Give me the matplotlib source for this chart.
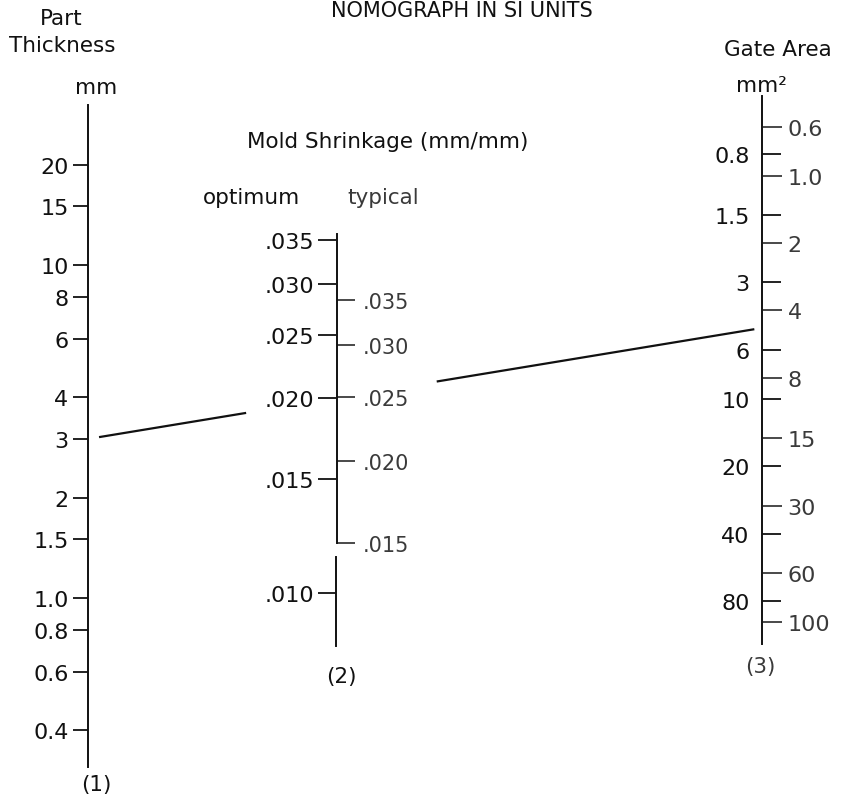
import matplotlib
matplotlib.use("Agg")
import matplotlib.pyplot as plt
from matplotlib.ticker import NullLocator
from matplotlib.lines import Line2D

W, H = 841, 803

# scale (1): part thickness, mm
thickness_ticks = [20, 15, 10, 8, 6, 4, 3, 2, 1.5, 1.0, 0.8, 0.6, 0.4]
thickness_labels = ["20", "15", "10", "8", "6", "4", "3", "2", "1.5", "1.0", "0.8", "0.6", "0.4"]

# scale (2): mold shrinkage, mm/mm
optimum_ticks = [.035, .030, .025, .020, .015, .010]
optimum_labels = [".035", ".030", ".025", ".020", ".015", ".010"]
typical_ticks = [.035, .030, .025, .020, .015]
typical_labels = [".035", ".030", ".025", ".020", ".015"]

# scale (3): gate area, mm^2 (labels alternate sides)
gate_left = [0.8, 1.5, 3, 6, 10, 20, 40, 80]
gate_left_labels = ["0.8", "1.5", "3", "6", "10", "20", "40", "80"]
gate_right = [0.6, 1.0, 2, 4, 8, 15, 30, 60, 100]
gate_right_labels = ["0.6", "1.0", "2", "4", "8", "15", "30", "60", "100"]

# worked example drawn on the chart
ex_thickness = 3
ex_shrinkage = 0.020

INK = "#111111"
FADED = "#3a3a3a"
plt.rcParams["font.family"] = ["DejaVu Sans"]


def scale_axes(fig, x, y_top, y_bot, lims):
    ax = fig.add_axes([x / W, 1 - y_bot / H, 0.5 / W, (y_bot - y_top) / H])
    ax.set_yscale("log")
    ax.set_ylim(*lims)
    ax.patch.set_visible(False)
    for s in ax.spines.values():
        s.set_visible(False)
        s.set_linewidth(1.4)
        s.set_color(INK)
    ax.set_xticks([])
    ax.yaxis.set_minor_locator(NullLocator())
    return ax


def txt(fig, x, y, s, **kw):
    kw.setdefault("color", INK)
    fig.text(x / W, 1 - y / H, s, **kw)


fig = plt.figure(figsize=(W / 100, H / 100), dpi=100)

# (1) part thickness
ax1 = scale_axes(fig, 88, 106, 768, (0.31, 30.24))
ax1.spines["left"].set_visible(True)
ax1.set_yticks(thickness_ticks, thickness_labels)
ax1.tick_params(axis="y", direction="out", length=11, width=1.3, pad=3,
                labelsize=16, colors=INK)

# (2) mold shrinkage, optimum on the left, typical on the right
ax2 = scale_axes(fig, 336, 235, 647, (0.0083, 0.0358))
ax2.spines["left"].set_visible(True)
ax2.spines["left"].set_bounds(0.0083, 0.01139)
ax2.set_yticks(optimum_ticks, optimum_labels)
ax2.tick_params(axis="y", direction="out", length=13, width=1.3, pad=3,
                labelsize=16, colors=INK)

ax2t = scale_axes(fig, 336, 235, 647, (0.01048, 0.04413))
ax2t.spines["right"].set_visible(True)
ax2t.spines["right"].set_bounds(0.015, 0.04413)
ax2t.yaxis.tick_right()
ax2t.set_yticks(typical_ticks, typical_labels)
ax2t.tick_params(axis="y", direction="out", length=13, width=1.3, pad=6,
                 labelsize=15, colors=FADED)

# (3) gate area, all ticks to the right, labels both sides
ax3 = scale_axes(fig, 762, 97, 645, (125, 0.438))
ax3.spines["left"].set_visible(True)
ax3.set_yticks(gate_left, gate_left_labels)
ax3.tick_params(axis="y", direction="in", length=14, width=1.3, pad=9,
                labelsize=16, colors=INK)

ax3r = scale_axes(fig, 762, 97, 645, (125, 0.438))
ax3r.yaxis.tick_right()
ax3r.set_yticks(gate_right, gate_right_labels)
ax3r.tick_params(axis="y", direction="out", length=14, width=1.3, pad=4,
                 labelsize=16, colors=FADED)

# isopleth through the example values, extended to scale (3)
inv = fig.transFigure.inverted()
p1 = ax1.transData.transform((0, ex_thickness))
p2 = ax2.transData.transform((0, ex_shrinkage))
x3 = ax3.transData.transform((0, 1))[0]
slope = (p2[1] - p1[1]) / (p2[0] - p1[0])
p3 = (x3, p1[1] + slope * (x3 - p1[0]))
for t0, t1 in [(0.018, 0.233), (0.519, 0.987)]:
    a = (p1[0] + t0 * (p3[0] - p1[0]), p1[1] + t0 * (p3[1] - p1[1]))
    b = (p1[0] + t1 * (p3[0] - p1[0]), p1[1] + t1 * (p3[1] - p1[1]))
    fa, fb = inv.transform(a), inv.transform(b)
    fig.add_artist(Line2D([fa[0], fb[0]], [fa[1], fb[1]], transform=fig.transFigure,
                          color=INK, lw=1.6))

# titles and captions
txt(fig, 462, 1, "NOMOGRAPH IN SI UNITS", fontsize=15, ha="center", va="top")
txt(fig, 61, 19, "Part", fontsize=15.5, ha="center", va="center")
txt(fig, 62, 46, "Thickness", fontsize=15.5, ha="center", va="center")
txt(fig, 96, 88, "mm", fontsize=15.5, ha="center", va="center")
txt(fig, 778, 50, "Gate Area", fontsize=15.5, ha="center", va="center")
txt(fig, 761, 86, "mm²", fontsize=15.5, ha="center", va="center")
txt(fig, 247, 142, "Mold Shrinkage (mm/mm)", fontsize=15.5, ha="left", va="center")
txt(fig, 251, 198, "optimum", fontsize=15.5, ha="center", va="center")
txt(fig, 383, 198, "typical", fontsize=15.5, ha="center", va="center", color=FADED)
txt(fig, 96, 785, "(1)", fontsize=15.5, ha="center", va="center")
txt(fig, 341, 677, "(2)", fontsize=15.5, ha="center", va="center")
txt(fig, 760, 667, "(3)", fontsize=15.5, ha="center", va="center", color=FADED)

fig.savefig("out.png", dpi=100, facecolor="white")
